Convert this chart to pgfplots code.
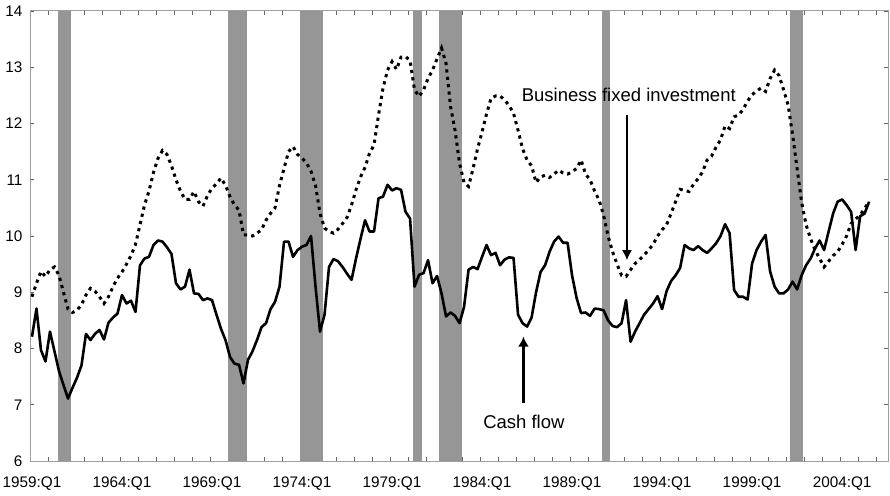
\documentclass[border=0pt]{standalone}
\usepackage{fontspec}
\setmainfont{Liberation Sans}
\usepackage{pgfplots}
\pgfplotsset{compat=1.18}
\usetikzlibrary{arrows.meta}
\definecolor{recess}{RGB}{150,150,150}

\begin{document}
\begin{tikzpicture}
\useasboundingbox (-30pt,-34pt) rectangle (860pt,461pt);
\begin{axis}[
  scale only axis, width=858pt, height=450pt,
  xmin=-0.44, xmax=190.2, ymin=6, ymax=14,
  axis line style={draw=gray!75, line width=1pt},
  ytick={6,7,...,14},
  xtick={0,20,...,180},
  xticklabels={1959:Q1,1964:Q1,1969:Q1,1974:Q1,1979:Q1,1984:Q1,1989:Q1,1994:Q1,1999:Q1,2004:Q1},
  minor xtick={3.7,7.7,...,188},
  tick align=inside,
  major tick length=4pt,
  minor tick length=4pt,
  major x tick style={draw=none},
  minor x tick style={draw=black!60, line width=0.6pt},
  major y tick style={draw=black!60, line width=0.6pt},
  ticklabel style={font=\fontsize{15.3}{17}\selectfont, text=black},
  /pgf/number format/assume math mode=true,
  yticklabel style={xshift=-4pt},
  xticklabel style={yshift=-12pt},
]
% recession bars
\addplot[fill=recess, draw=none, forget plot] coordinates {(5.8,6) (5.8,14) (8.7,14) (8.7,6)} -- cycle;
\addplot[fill=recess, draw=none, forget plot] coordinates {(43.6,6) (43.6,14) (47.8,14) (47.8,6)} -- cycle;
\addplot[fill=recess, draw=none, forget plot] coordinates {(59.6,6) (59.6,14) (64.7,14) (64.7,6)} -- cycle;
\addplot[fill=recess, draw=none, forget plot] coordinates {(84.6,6) (84.6,14) (86.6,14) (86.6,6)} -- cycle;
\addplot[fill=recess, draw=none, forget plot] coordinates {(90.5,6) (90.5,14) (95.5,14) (95.5,6)} -- cycle;
\addplot[fill=recess, draw=none, forget plot] coordinates {(126.6,6) (126.6,14) (128.4,14) (128.4,6)} -- cycle;
\addplot[fill=recess, draw=none, forget plot] coordinates {(168.4,6) (168.4,14) (171.3,14) (171.3,6)} -- cycle;

% Business fixed investment (dotted)
\addplot[black, line width=3pt, dash pattern=on 3.2pt off 4.2pt] table {
0 8.92
1 9.16
2 9.37
3 9.28
4 9.40
5 9.45
6 9.30
7 9.00
8 8.70
9 8.64
10 8.68
11 8.78
12 8.95
13 9.07
14 9.02
15 8.92
16 8.80
17 8.92
18 9.10
19 9.25
20 9.36
21 9.50
22 9.65
23 9.85
24 10.20
25 10.55
26 10.80
27 11.13
28 11.38
29 11.52
30 11.45
31 11.25
32 11.00
33 10.80
34 10.65
35 10.65
36 10.79
37 10.61
38 10.53
39 10.72
40 10.85
41 10.93
42 11.03
43 10.90
44 10.70
45 10.55
46 10.46
47 10.02
48 10.02
49 10.00
50 10.05
51 10.11
52 10.28
53 10.40
54 10.50
55 10.90
56 11.20
57 11.50
58 11.59
59 11.45
60 11.38
61 11.30
62 11.15
63 10.90
64 10.40
65 10.14
66 10.08
67 10.05
68 10.12
69 10.22
70 10.33
71 10.55
72 10.82
73 11.05
74 11.22
75 11.47
76 11.62
77 12.15
78 12.63
79 12.95
80 13.10
81 12.96
82 13.18
83 13.19
84 13.12
85 12.60
86 12.48
87 12.60
88 12.80
89 12.95
90 13.15
91 13.34
92 13.07
93 12.30
94 11.88
95 11.29
96 10.95
97 10.88
98 11.20
99 11.55
100 11.85
101 12.17
102 12.45
103 12.49
104 12.49
105 12.42
106 12.32
107 12.18
108 11.88
109 11.55
110 11.35
111 11.25
112 10.95
113 11.05
114 11.08
115 11.04
116 11.10
117 11.17
118 11.12
119 11.10
120 11.14
121 11.20
122 11.35
123 11.10
124 11.00
125 10.80
126 10.64
127 10.37
128 10.00
129 9.72
130 9.50
131 9.30
132 9.28
133 9.40
134 9.51
135 9.58
136 9.66
137 9.75
138 9.85
139 10.00
140 10.11
141 10.20
142 10.40
143 10.61
144 10.83
145 10.81
146 10.79
147 10.92
148 11.02
149 11.14
150 11.35
151 11.42
152 11.58
153 11.71
154 11.96
155 11.91
156 12.12
157 12.15
158 12.25
159 12.40
160 12.51
161 12.58
162 12.63
163 12.57
164 12.80
165 12.95
166 12.85
167 12.60
168 12.33
169 11.80
170 11.20
171 10.60
172 10.20
173 9.95
174 9.75
175 9.60
176 9.45
177 9.55
178 9.65
179 9.72
180 9.85
181 10.00
182 10.22
183 10.30
184 10.37
185 10.49
186 10.61
};

% Cash flow (solid)
\addplot[black, line width=2.6pt, line join=round] table {
0 8.21
1 8.71
2 7.97
3 7.77
4 8.30
5 7.95
6 7.60
7 7.35
8 7.11
9 7.30
10 7.48
11 7.70
12 8.26
13 8.15
14 8.26
15 8.33
16 8.16
17 8.46
18 8.55
19 8.62
20 8.95
21 8.80
22 8.85
23 8.65
24 9.48
25 9.60
26 9.63
27 9.84
28 9.92
29 9.90
30 9.80
31 9.68
32 9.16
33 9.05
34 9.10
35 9.40
36 8.98
37 8.97
38 8.86
39 8.89
40 8.86
41 8.60
42 8.35
43 8.15
44 7.85
45 7.73
46 7.71
47 7.38
48 7.80
49 7.95
50 8.15
51 8.38
52 8.45
53 8.70
54 8.83
55 9.10
56 9.90
57 9.90
58 9.63
59 9.75
60 9.81
61 9.84
62 10.00
63 9.10
64 8.30
65 8.60
66 9.45
67 9.59
68 9.55
69 9.45
70 9.33
71 9.22
72 9.60
73 9.95
74 10.28
75 10.08
76 10.08
77 10.67
78 10.70
79 10.91
80 10.81
81 10.85
82 10.82
83 10.43
84 10.31
85 9.10
86 9.31
87 9.34
88 9.57
89 9.16
90 9.29
91 8.98
92 8.57
93 8.64
94 8.58
95 8.45
96 8.74
97 9.40
98 9.45
99 9.41
100 9.63
101 9.84
102 9.66
103 9.70
104 9.48
105 9.58
106 9.62
107 9.61
108 8.60
109 8.45
110 8.39
111 8.55
112 9.00
113 9.36
114 9.48
115 9.72
116 9.90
117 9.99
118 9.88
119 9.88
120 9.30
121 8.90
122 8.63
123 8.64
124 8.58
125 8.71
126 8.70
127 8.68
128 8.50
129 8.40
130 8.38
131 8.45
132 8.86
133 8.12
134 8.30
135 8.45
136 8.60
137 8.70
138 8.80
139 8.93
140 8.70
141 9.02
142 9.20
143 9.30
144 9.43
145 9.84
146 9.78
147 9.75
148 9.82
149 9.75
150 9.70
151 9.78
152 9.87
153 10.00
154 10.21
155 10.05
156 9.04
157 8.92
158 8.92
159 8.87
160 9.51
161 9.75
162 9.90
163 10.02
164 9.37
165 9.10
166 8.98
167 8.98
168 9.05
169 9.19
170 9.05
171 9.30
172 9.48
173 9.60
174 9.78
175 9.92
176 9.75
177 10.08
178 10.40
179 10.61
180 10.65
181 10.55
182 10.43
183 9.75
184 10.35
185 10.40
186 10.61
};

% annotations
\node[anchor=west, inner sep=0pt, font=\fontsize{18.5}{20}\selectfont] at (axis cs:108.8,12.51) {Business fixed investment};
\draw[-{Latex[length=10pt,width=10pt]}, line width=1.4pt] (axis cs:132.2,12.15) -- (axis cs:132.2,9.57);
\draw[-{Latex[length=10pt,width=11pt]}, line width=2.4pt] (axis cs:109.2,7.03) -- (axis cs:109.2,8.21);
\node[inner sep=0pt, font=\fontsize{18.5}{20}\selectfont] at (axis cs:109.3,6.70) {Cash flow};
\end{axis}
\end{tikzpicture}
\end{document}
